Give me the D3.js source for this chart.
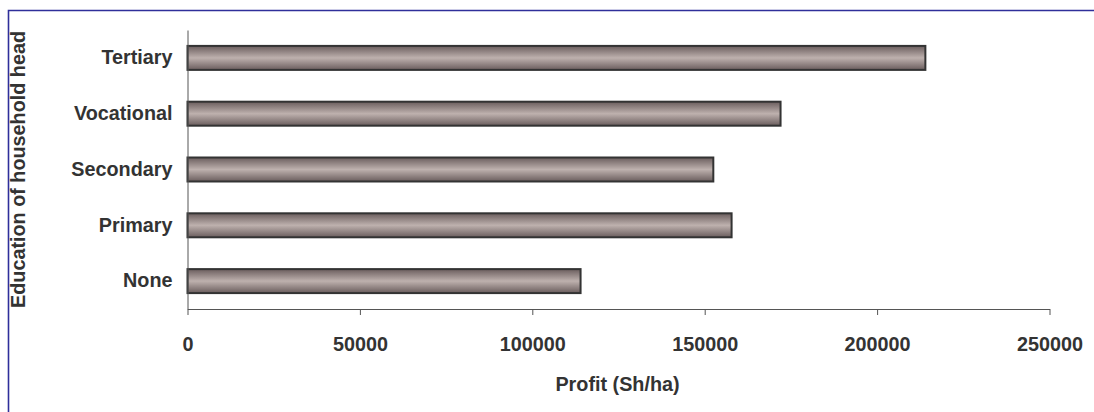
<!DOCTYPE html>
<html>
<head>
<meta charset="utf-8">
<script src="https://cdn.jsdelivr.net/npm/d3@7"></script>
<style>
  html, body { margin: 0; padding: 0; background: #fff; }
  svg { display: block; }
  text { font-family: "Liberation Sans", Arial, sans-serif; font-weight: bold; fill: #333; }
</style>
</head>
<body>
<svg id="chart" width="1094" height="412"></svg>
<script>
const categories = ["Tertiary", "Vocational", "Secondary", "Primary", "None"];
const profit = [214000, 172000, 152500, 157800, 114000];
const xTicks = [0, 50000, 100000, 150000, 200000, 250000];
const xTitle = "Profit (Sh/ha)";
const yTitle = "Education of household head";

const W = 1094, H = 412;
const FS = "19.8px";
const svg = d3.select("#chart");

// frame
svg.append("path")
  .attr("d", `M${W},10.5 H8.5 V${H}`)
  .attr("fill", "none").attr("stroke", "#2f2f9a").attr("stroke-width", 1.6);

const m = { left: 187.5, right: 1049.5, top: 30, bottom: 309 };
const x = d3.scaleLinear().domain([0, 250000]).range([m.left, m.right]);
const y = d3.scaleBand().domain(categories).range([m.top, m.bottom]).paddingInner(0.57).paddingOuter(0.285);

const defs = svg.append("defs");
const g = defs.append("linearGradient").attr("id", "barGrad").attr("x1", 0).attr("y1", 0).attr("x2", 0).attr("y2", 1);
g.append("stop").attr("offset", "0%").attr("stop-color", "#6a5d5d");
g.append("stop").attr("offset", "50%").attr("stop-color", "#beb1ae");
g.append("stop").attr("offset", "100%").attr("stop-color", "#6a5d5d");

const data = categories.map((c, i) => ({ c, v: profit[i] }));

svg.append("g").selectAll("rect").data(data).enter().append("rect")
  .attr("x", x(0))
  .attr("y", d => y(d.c))
  .attr("width", d => x(d.v) - x(0))
  .attr("height", y.bandwidth())
  .attr("fill", "url(#barGrad)")
  .attr("stroke", "#333")
  .attr("stroke-width", 2);

// x axis
const xAxis = d3.axisBottom(x).tickValues(xTicks).tickFormat(d3.format("d")).tickSize(6).tickSizeOuter(0);
const xg = svg.append("g").attr("transform", `translate(0,${m.bottom})`).call(xAxis);
xg.select(".domain").attr("stroke", "#555").attr("stroke-width", 1);
xg.selectAll(".tick line").attr("stroke", "#555");
xg.selectAll(".tick text")
  .attr("y", 0).attr("dy", 0)
  .attr("transform", "translate(0,42)")
  .style("font-size", FS).style("font-family", "Liberation Sans, Arial, sans-serif")
  .style("font-weight", "bold").attr("fill", "#333");

// y axis
const yAxis = d3.axisLeft(y).tickSize(0).tickPadding(15);
const yg = svg.append("g").attr("transform", `translate(${m.left},0)`).call(yAxis);
yg.select(".domain").attr("stroke", "#555").attr("stroke-width", 1);
yg.selectAll(".tick text")
  .style("font-size", FS).style("font-family", "Liberation Sans, Arial, sans-serif")
  .style("font-weight", "bold").attr("fill", "#333");

// titles
svg.append("text")
  .attr("x", (m.left + m.right) / 2 - 1).attr("y", 391)
  .attr("text-anchor", "middle")
  .style("font-size", FS)
  .text(xTitle);

svg.append("text")
  .attr("transform", `translate(25,${(m.top + m.bottom) / 2}) rotate(-90)`)
  .attr("text-anchor", "middle")
  .style("font-size", FS)
  .text(yTitle);
</script>
</body>
</html>
